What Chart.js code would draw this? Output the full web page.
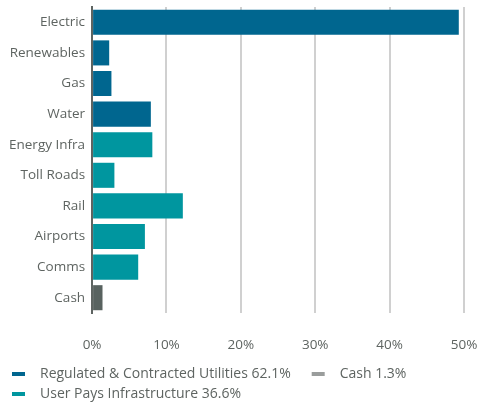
<!DOCTYPE html>
<html>
<head>
<meta charset="utf-8">
<script src="https://cdn.jsdelivr.net/npm/chart.js@4.4.0/dist/chart.umd.min.js"></script>
<style>
  html, body { margin: 0; padding: 0; background: #fff; }
  #wrap { width: 479px; height: 406px; }
</style>
</head>
<body>
<div id="wrap"><canvas id="chart"></canvas></div>
<script>
// Dati del grafico
const categories = ['Electric', 'Renewables', 'Gas', 'Water', 'Energy Infra', 'Toll Roads', 'Rail', 'Airports', 'Comms', 'Cash'];
const weights = [49.3, 2.3, 2.6, 7.9, 8.1, 3.0, 12.2, 7.1, 6.2, 1.4];
const groupOf = [0, 0, 0, 0, 1, 1, 1, 1, 1, 2];
const groupNames = ['Regulated & Contracted Utilities 62.1%', 'User Pays Infrastructure 36.6%', 'Cash 1.3%'];
const legendOrder = [0, 2, 1];
const xTicks = [0, 10, 20, 30, 40, 50];

const barColors = ['#00668F', '#00969F', '#58625F'];
const legendColors = ['#00668F', '#00969F', '#9A9D9C'];
const textColor = '#5E6461';

// Marcatore della legenda: rettangolino basso con margine a sinistra
function makeMarker(color) {
    const c = document.createElement('canvas');
    c.width = 25;
    c.height = 4;
    const g = c.getContext('2d');
    g.fillStyle = color;
    g.fillRect(4, 0, 13, 4);
    return c;
}

const ctx = document.getElementById('chart').getContext('2d');
new Chart(ctx, {
    type: 'bar',
    data: {
        labels: categories,
        datasets: [{
            data: weights,
            backgroundColor: groupOf.map(function(g) { return barColors[g]; }),
            barPercentage: 0.9,
            categoryPercentage: 0.91
        }]
    },
    options: {
        indexAxis: 'y',
        responsive: true,
        maintainAspectRatio: false,
        animation: false,
        layout: { padding: { left: 2, right: 2, top: 0, bottom: -5 } },
        scales: {
            x: {
                min: 0,
                max: 50,
                afterBuildTicks: function(axis) {
                    axis.ticks = xTicks.map(function(v) { return { value: v }; });
                },
                // margini fissi per allineare l'area del grafico
                afterFit: function(axis) {
                    axis.height = 48;
                    axis.paddingRight = 15;
                    axis.paddingLeft = 0;
                },
                grid: { color: '#D0D0D0', lineWidth: 2, drawTicks: false },
                border: { display: false },
                ticks: {
                    padding: 24,
                    color: textColor,
                    font: { family: 'Open Sans', size: 13.5 },
                    callback: function(v) { return v + '%'; }
                }
            },
            y: {
                afterFit: function(axis) {
                    axis.paddingTop = 7;
                    axis.paddingBottom = 0;
                },
                grid: { display: false, drawTicks: false },
                border: { display: true, color: '#5E6461', width: 2 },
                ticks: {
                    padding: 7,
                    color: textColor,
                    font: { family: 'Open Sans', size: 13.5 }
                }
            }
        },
        plugins: {
            tooltip: { enabled: false },
            legend: {
                position: 'bottom',
                align: 'start',
                labels: {
                    usePointStyle: true,
                    pointStyleWidth: 25,
                    boxHeight: 4,
                    padding: 6,
                    color: textColor,
                    font: { family: 'Open Sans', size: 14 },
                    generateLabels: function() {
                        return legendOrder.map(function(g) {
                            return {
                                text: groupNames[g] + (g === 0 ? '   ' : ''),
                                fillStyle: legendColors[g],
                                strokeStyle: legendColors[g],
                                lineWidth: 0,
                                pointStyle: makeMarker(legendColors[g]),
                                fontColor: textColor,
                                hidden: false
                            };
                        });
                    }
                }
            }
        }
    }
});
</script>
</body>
</html>
